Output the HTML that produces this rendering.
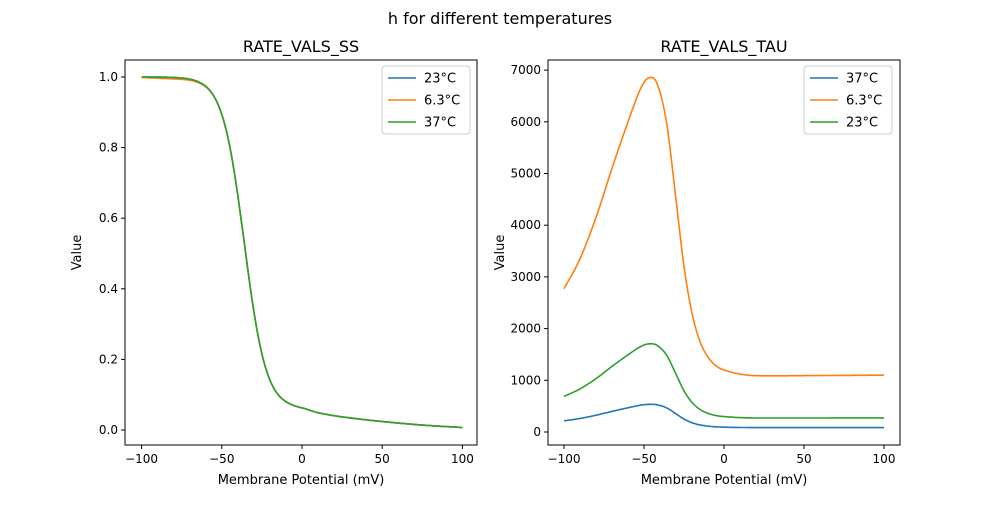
<!DOCTYPE html>
<html><head><meta charset="utf-8"><style>
body{margin:0;background:#fff;}
svg text{font-family:"DejaVu Sans","Liberation Sans",sans-serif;fill:#000;}
</style></head><body>
<svg id="s" width="1000" height="500" xmlns="http://www.w3.org/2000/svg">
<rect width="1000" height="500" fill="#fff"/>
<text x="500" y="24" font-size="16" text-anchor="middle">h for different temperatures</text>
<text x="301" y="52" font-size="16" text-anchor="middle">RATE_VALS_SS</text>
<text x="724" y="52" font-size="16" text-anchor="middle">RATE_VALS_TAU</text>
</svg>
<script>
const S=document.getElementById('s');const NS='http://www.w3.org/2000/svg';
function el(t,a,txt){const e=document.createElementNS(NS,t);for(const k in a)e.setAttribute(k,a[k]);if(txt!==undefined)e.textContent=txt;S.appendChild(e);return e;}
function interp(pts,v){for(let i=0;i<pts.length-1;i++){if(v>=pts[i][0]&&v<=pts[i+1][0]){
 const p0=pts[Math.max(0,i-1)],p1=pts[i],p2=pts[i+1],p3=pts[Math.min(pts.length-1,i+2)];
 const t=(v-p1[0])/(p2[0]-p1[0]);
 const m1=(p2[1]-p0[1])/(p2[0]-p0[0])*(p2[0]-p1[0]),m2=(p3[1]-p1[1])/(p3[0]-p1[0])*(p2[0]-p1[0]);
 const t2=t*t,t3=t2*t;
 return (2*t3-3*t2+1)*p1[1]+(t3-2*t2+t)*m1+(-2*t3+3*t2)*p2[1]+(t3-t2)*m2;}}return pts[pts.length-1][1];}
const L={x0:125,x1:477,y0:60,y1:445,xm:v=>302+v*1.604,ym:v=>430-v*353};
const R={x0:548,x1:900,y0:60,y1:445,xm:v=>724+v*1.6,ym:v=>432-v*0.0517};
function axes(A,yt,yfmt){
 for(const v of [-100,-50,0,50,100]){const x=A.xm(v);el('line',{x1:x,x2:x,y1:A.y1,y2:A.y1+4,stroke:'#000'});el('text',{x:x,y:A.y1+18,'font-size':12,'text-anchor':'middle'},v==0?'0':(v<0?'−'+(-v):String(v)));}
 for(const v of yt){const y=A.ym(v);el('line',{x1:A.x0-4,x2:A.x0,y1:y,y2:y,stroke:'#000'});el('text',{x:A.x0-7,y:y+4,'font-size':12,'text-anchor':'end'},yfmt(v));}
 el('text',{x:(A.x0+A.x1)/2,y:484,'font-size':13,'text-anchor':'middle'},'Membrane Potential (mV)');
 const cx=A.x0-44, cy=(A.y0+A.y1)/2;el('text',{x:cx,y:cy,'font-size':13,'text-anchor':'middle',transform:'rotate(-90 '+cx+' '+cy+')'},'Value');
}
function curve(A,f,c){let d='';for(let v=-100;v<=100;v+=0.5){d+=(d?'L':'M')+A.xm(v).toFixed(1)+','+A.ym(f(v)).toFixed(1);}el('path',{d:d,fill:'none',stroke:c,'stroke-width':1.6});}
const tail=[[-100,0.06],[-20,0.06],[0,0.058],[10,0.048],[25,0.037],[50,0.024],[75,0.014],[100,0.007]];
function ssf(v){return 0.94/(1+Math.exp((v+36)/6.8))+interp(tail,v);}
const tau=[[-100,2770],[-90,3350],[-80,4150],[-70,5100],[-60,6000],[-52,6650],[-47,6850],[-42,6750],[-36,6000],[-30,4500],[-25,3200],[-20,2300],[-15,1750],[-10,1450],[-5,1280],[0,1200],[10,1120],[20,1090],[50,1090],[100,1100]];
axes(L,[0,0.2,0.4,0.6,0.8,1.0],v=>v.toFixed(1));
axes(R,[0,1000,2000,3000,4000,5000,6000,7000],v=>String(v));
const B='#1f77b4',O='#ff7f0e',G='#2ca02c';
curve(L,ssf,B);
curve(L,v=>ssf(v)-0.004*Math.exp(-Math.pow((v+80)/20,2)),O);
curve(L,ssf,G);
curve(R,v=>interp(tau,v)/12.8,B);curve(R,v=>interp(tau,v),O);curve(R,v=>interp(tau,v)/4.02,G);
for(const A of [L,R])el('rect',{x:A.x0,y:A.y0,width:A.x1-A.x0,height:A.y1-A.y0,fill:'none',stroke:'#000','stroke-width':1});
function leg(x,labels){el('rect',{x:x,y:66,width:88,height:68,rx:3,fill:'#fff','fill-opacity':0.8,stroke:'#ccc'});
 labels.forEach((l,i)=>{const y=78+i*22;el('line',{x1:x+6,x2:x+34,y1:y,y2:y,stroke:l[1],'stroke-width':1.6});el('text',{x:x+42,y:y+4.5,'font-size':13},l[0]);});}
leg(382,[['23°C',B],['6.3°C',O],['37°C',G]]);
leg(804,[['37°C',B],['6.3°C',O],['23°C',G]]);
</script>
</body></html>
